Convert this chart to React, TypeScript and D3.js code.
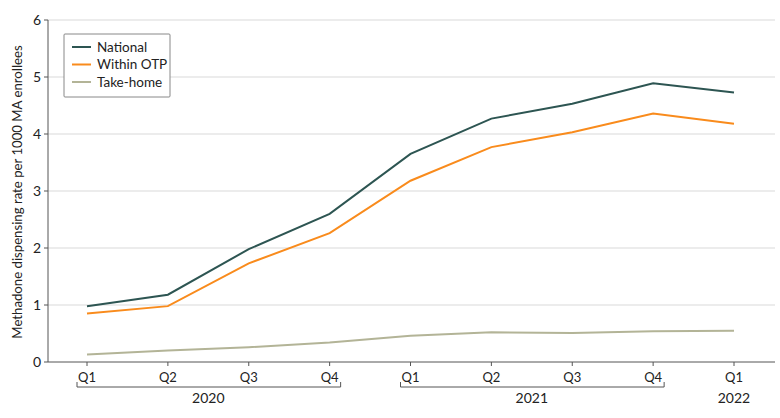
import React from "react";
import * as d3 from "d3";

const quarters = ["Q1", "Q2", "Q3", "Q4", "Q1", "Q2", "Q3", "Q4", "Q1"];
const national = [0.98, 1.18, 1.98, 2.6, 3.65, 4.27, 4.53, 4.89, 4.73];
const withinOTP = [0.85, 0.98, 1.73, 2.26, 3.18, 3.77, 4.03, 4.36, 4.18];
const takeHome = [0.13, 0.2, 0.26, 0.34, 0.46, 0.52, 0.51, 0.54, 0.55];
const yTicks = [0, 1, 2, 3, 4, 5, 6];
const years = [
  { label: "2020", from: 0, to: 3, bracket: true },
  { label: "2021", from: 4, to: 7, bracket: true },
  { label: "2022", from: 8, to: 8, bracket: false },
];
const seriesNames = ["National", "Within OTP", "Take-home"];
const colors = ["#2d5552", "#f98b1c", "#b3b497"];

export default function App() {
  const W = 780, H = 418;
  const left = 48, right = 775, top = 20, bottom = 362;
  const x = d3.scaleLinear().domain([0, 8]).range([87, 734]);
  const y = d3.scaleLinear().domain([0, 6]).range([bottom, top]);
  const line = d3.line<number>().x((_, i) => x(i)).y((d) => y(d));
  const font = "Lato, 'Open Sans', sans-serif";
  const data = [national, withinOTP, takeHome];
  return (
    <svg width={W} height={H} style={{ position: "absolute", left: 0, top: 0 }} fontFamily={font}>
      <rect width={W} height={H} fill="#fff" />
      {yTicks.map((t) => (
        <g key={t}>
          {t > 0 && <line x1={left} x2={right} y1={y(t)} y2={y(t)} stroke="#d9d9d9" strokeWidth={1} />}
          <line x1={left - 4} x2={left} y1={y(t)} y2={y(t)} stroke="#555" />
          <text x={left - 7} y={y(t)} dy="0.36em" textAnchor="end" fontSize={14} fill="#222">{t}</text>
        </g>
      ))}
      <line x1={left} x2={left} y1={top} y2={bottom} stroke="#555" />
      <line x1={left} x2={right} y1={bottom} y2={bottom} stroke="#555" />
      {quarters.map((q, i) => (
        <g key={i}>
          <line x1={x(i)} x2={x(i)} y1={bottom} y2={bottom + 4} stroke="#555" />
          <text x={x(i)} y={bottom + 20} textAnchor="middle" fontSize={13} fill="#222">{q}</text>
        </g>
      ))}
      {years.map((yr) => {
        const x0 = x(yr.from) - 10, x1 = x(yr.to) + 11;
        return (
          <g key={yr.label}>
            {yr.bracket && (
              <path d={`M${x0},${bottom + 20}V${bottom + 25}H${x1}V${bottom + 20}`} fill="none" stroke="#555" />
            )}
            <text x={(x(yr.from) + x(yr.to)) / 2} y={bottom + 41} textAnchor="middle" fontSize={14} fill="#222">{yr.label}</text>
          </g>
        );
      })}
      {data.map((s, k) => (
        <path key={k} d={line(s) || ""} fill="none" stroke={colors[k]} strokeWidth={2} />
      ))}
      <text transform={`translate(22,${(top + bottom) / 2 + 1}) rotate(-90)`} textAnchor="middle" fontSize={13.2} fill="#222">
        Methadone dispensing rate per 1000 MA enrollees
      </text>
      <g>
        <rect x={64} y={34} width={106} height={63} fill="#fff" stroke="#888" strokeWidth={1} rx={1} />
        {seriesNames.map((n, k) => (
          <g key={n}>
            <line x1={72} x2={91} y1={47 + k * 17.5} y2={47 + k * 17.5} stroke={colors[k]} strokeWidth={2} />
            <text x={97} y={47 + k * 17.5} dy="0.36em" fontSize={13.5} fill="#222">{n}</text>
          </g>
        ))}
      </g>
    </svg>
  );
}
